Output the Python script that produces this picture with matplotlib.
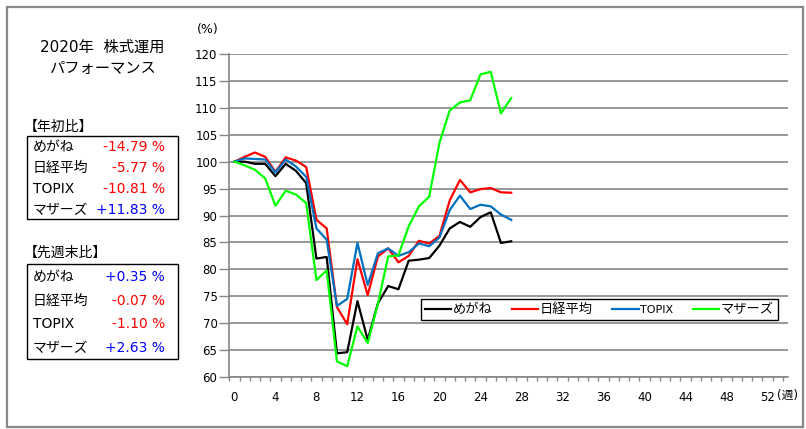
import numpy as np
import matplotlib
matplotlib.use('Agg')
import matplotlib.pyplot as plt
from matplotlib.patches import Rectangle

plt.rcParams['font.family'] = ['DejaVu Sans', 'Noto Sans CJK JP']

weeks = list(range(28))

megane = [100, 100.0, 99.6, 99.6, 97.3, 99.6, 98.3, 96.0, 82.0, 82.3,
          64.4, 64.6, 74.1, 66.9, 73.7, 76.9, 76.3, 81.6, 81.8, 82.1,
          84.4, 87.6, 88.8, 87.9, 89.7, 90.6, 84.9, 85.21]
nikkei = [100, 100.9, 101.7, 100.9, 98.1, 100.8, 100.2, 99.0, 89.2, 87.6,
          73.0, 69.8, 81.9, 75.2, 82.4, 83.9, 81.3, 82.5, 85.3, 84.8,
          86.2, 92.8, 96.6, 94.3, 94.9, 95.1, 94.30, 94.23]
topix = [100, 100.6, 100.5, 100.4, 98.0, 100.4, 99.1, 97.2, 87.6, 85.5,
         73.2, 74.5, 84.9, 77.1, 83.0, 83.9, 82.5, 83.2, 84.8, 84.3,
         85.9, 91.0, 93.7, 91.2, 92.0, 91.7, 90.18, 89.19]
mothers = [100, 99.3, 98.5, 96.9, 91.8, 94.6, 93.9, 92.3, 78.0, 79.8,
           62.9, 62.0, 69.4, 66.3, 73.6, 82.4, 82.6, 88.0, 91.7, 93.5,
           103.5, 109.5, 111.0, 111.4, 116.2, 116.7, 108.97, 111.83]

names = ['めがね', '日経平均', 'TOPIX', 'マザーズ']
colors = ['black', '#FF0000', '#0070C0', '#00FF00']

ytd_text = ['-14.79 %', '-5.77 %', '-10.81 %', '+11.83 %']
wow_text = ['+0.35 %', '-0.07 %', '-1.10 %', '+2.63 %']

W, H = 806, 429


def fx(px):
    return px / W


def fy(py):
    return 1 - py / H


def value_color(s):
    return '#0000FF' if s.startswith('+') else '#FF0000'


def draw_table(fig, title, values, title_y, box_top, box_bottom, rows_y):
    fig.text(fx(24), fy(title_y), title, fontsize=10, va='center', ha='left')
    fig.patches.append(Rectangle((fx(26.7), fy(box_bottom)), fx(178.3 - 26.7),
                                 (box_bottom - box_top) / H, transform=fig.transFigure,
                                 fill=False, edgecolor='black', lw=1.0))
    for name, val, ry in zip(names, values, rows_y):
        fig.text(fx(33), fy(ry), name, fontsize=10, va='center', ha='left')
        fig.text(fx(165), fy(ry), val, fontsize=10, va='center', ha='right',
                 color=value_color(val))


def main():
    fig = plt.figure(figsize=(W / 100, H / 100), dpi=100)
    ax = fig.add_axes([fx(229.3), fy(377), fx(788 - 229.3), (377 - 54) / H])

    series = [megane, nikkei, topix, mothers]
    for vals, name, c in zip(series, names, colors):
        ax.plot(weeks, vals, color=c, lw=1.6, label=name)

    ax.set_xlim(-0.5, 54)
    ax.set_ylim(60, 120)
    ax.set_yticks(np.arange(60, 121, 5))
    ax.set_xticks(range(0, 53, 4))
    ax.set_xticks(np.arange(-0.5, 54, 1), minor=True)
    ax.tick_params(axis='x', which='major', length=0, pad=10, labelsize=8.5)
    ax.tick_params(axis='x', which='minor', length=3, color='#868686', width=1)
    ax.tick_params(axis='y', length=7, color='#868686', width=1, pad=1.5, labelsize=8.5)
    ax.yaxis.grid(True, color='#868686', lw=1.2)
    ax.set_axisbelow(True)
    for s in ['top', 'right']:
        ax.spines[s].set_visible(False)
    for s in ['left', 'bottom']:
        ax.spines[s].set_color('#868686')
        ax.spines[s].set_linewidth(1.2)

    leg = ax.legend(loc='upper left', ncol=4, mode='expand',
                    bbox_to_anchor=(0.343, 0.154, 0.9816 - 0.343, 0.2406 - 0.154),
                    borderaxespad=0, fancybox=False, framealpha=1,
                    edgecolor='black', fontsize=9.5, handlelength=2.0,
                    handletextpad=0.1, columnspacing=1.0, borderpad=0.3)
    leg.get_frame().set_linewidth(1.0)
    leg.get_texts()[2].set_fontsize(8)

    fig.text(fx(208), fy(30), '(%)', fontsize=9, ha='center', va='center')
    fig.text(fx(777), fy(395), '(週)', fontsize=8.5, ha='left', va='center')

    fig.text(fx(102.5), fy(47), '2020年  株式運用', fontsize=11, ha='center', va='center')
    fig.text(fx(102.5), fy(68), 'パフォーマンス', fontsize=11, ha='center', va='center')

    draw_table(fig, '【年初比】', ytd_text, 127, 136, 219.3,
               [147.3, 168.3, 189.3, 209.7])
    draw_table(fig, '【先週末比】', wow_text, 253, 264.3, 359.3,
               [276.7, 300.7, 324.3, 348.3])

    fig.patches.append(Rectangle((fx(7), fy(427)), fx(803 - 7), (427 - 7) / H,
                                 transform=fig.transFigure, fill=False,
                                 edgecolor='#888888', lw=1.6))

    fig.savefig('out.png', dpi=100)


if __name__ == '__main__':
    main()
